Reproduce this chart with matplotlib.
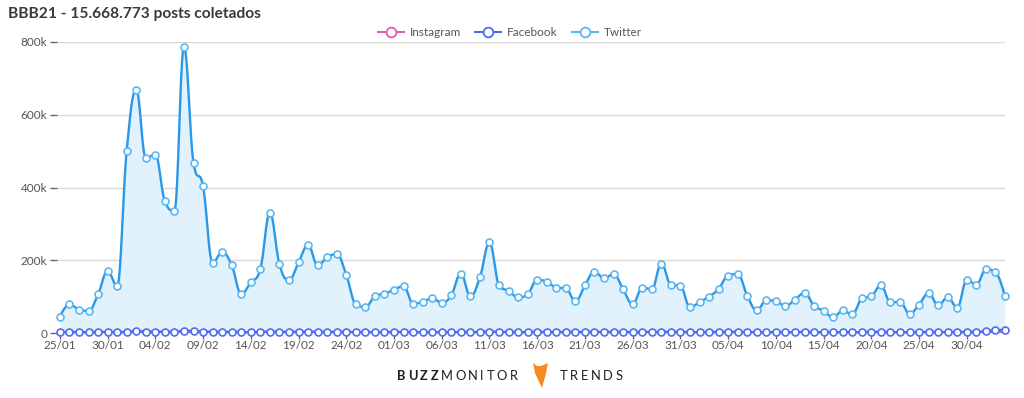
import numpy as np
import matplotlib
matplotlib.use("Agg")
import matplotlib.pyplot as plt
from matplotlib.lines import Line2D
from matplotlib.patches import Polygon

# ---------------- data ----------------
title = "BBB21 - 15.668.773 posts coletados"
series_names = ["Instagram", "Facebook", "Twitter"]
tick_labels = ["25/01", "30/01", "04/02", "09/02", "14/02", "19/02", "24/02",
               "01/03", "06/03", "11/03", "16/03", "21/03", "26/03", "31/03",
               "05/04", "10/04", "15/04", "20/04", "25/04", "30/04"]
tick_days = [0, 5, 10, 15, 20, 25, 30, 35, 40, 45, 50, 55, 60, 65, 70, 75, 80, 85, 90, 95]

twitter = [45, 79, 64, 61, 106, 170, 129, 501, 669, 482,
           490, 362, 336, 786, 468, 403, 193, 223, 186, 108,
           139, 176, 330, 189, 145, 194, 242, 186, 208, 217,
           160, 79, 72, 101, 108, 119, 129, 81, 85, 96,
           83, 104, 163, 101, 153, 249, 131, 116, 98, 107,
           146, 141, 125, 123, 87, 131, 169, 150, 162, 120,
           79, 125, 120, 191, 133, 130, 71, 85, 100, 121,
           158, 162, 103, 62, 90, 88, 74, 92, 110, 75,
           61, 43, 62, 51, 95, 101, 131, 84, 86, 53,
           78, 110, 76, 98, 70, 146, 133, 175, 168, 101]
facebook = [2, 3, 2, 2, 3, 3, 2, 3, 5, 4,
            4, 3, 3, 6, 5, 4, 3, 3, 3, 2,
            2, 3, 4, 3, 3, 3, 4, 3, 3, 3,
            3, 2, 2, 2, 2, 3, 3, 2, 2, 2,
            2, 2, 3, 2, 3, 4, 3, 3, 2, 2,
            3, 3, 3, 3, 2, 3, 3, 3, 3, 3,
            2, 3, 3, 3, 3, 3, 2, 2, 2, 3,
            3, 3, 3, 2, 2, 2, 2, 2, 3, 2,
            2, 2, 2, 2, 2, 3, 3, 2, 2, 2,
            2, 3, 2, 3, 2, 3, 3, 5, 8, 8]
instagram = [1, 1, 1, 1, 1, 1, 1, 1, 2, 1,
             1, 1, 1, 2, 2, 1, 1, 1, 1, 1,
             1, 1, 1, 1, 1, 1, 1, 1, 1, 1,
             1, 1, 1, 1, 1, 1, 1, 1, 1, 1,
             1, 1, 1, 1, 1, 1, 1, 1, 1, 1,
             1, 1, 1, 1, 1, 1, 1, 1, 1, 1,
             1, 1, 1, 1, 1, 1, 1, 1, 1, 1,
             1, 1, 1, 1, 1, 1, 1, 1, 1, 1,
             1, 1, 1, 1, 1, 1, 1, 1, 1, 1,
             1, 1, 1, 1, 1, 1, 1, 2, 3, 3]
y_ticks = [0, 200, 400, 600, 800]
y_tick_labels = ["0", "200k", "400k", "600k", "800k"]

# ---------------- helpers ----------------
def spline(xs, ys, smoothing=1.5, n=16):
    """Highcharts-style spline through the points (for drawing only)."""
    xs = np.asarray(xs, float)
    ys = np.asarray(ys, float)
    m = len(xs)
    lc = np.zeros((m, 2)); rc = np.zeros((m, 2))
    denom = smoothing + 1
    for i in range(m):
        px, py = xs[i], ys[i]
        if 0 < i < m - 1:
            lx, ly = xs[i - 1], ys[i - 1]
            nx, ny = xs[i + 1], ys[i + 1]
            lcx = (smoothing * px + lx) / denom
            lcy = (smoothing * py + ly) / denom
            rcx = (smoothing * px + nx) / denom
            rcy = (smoothing * py + ny) / denom
            corr = 0
            if rcx != lcx:
                corr = ((rcy - lcy) * (rcx - px)) / (rcx - lcx) + py - rcy
            lcy += corr; rcy += corr
            if lcy > ly and lcy > py:
                lcy = max(ly, py); rcy = 2 * py - lcy
            elif lcy < ly and lcy < py:
                lcy = min(ly, py); rcy = 2 * py - lcy
            if rcy > ny and rcy > py:
                rcy = max(ny, py); lcy = 2 * py - rcy
            elif rcy < ny and rcy < py:
                rcy = min(ny, py); lcy = 2 * py - rcy
            lc[i] = (lcx, lcy); rc[i] = (rcx, rcy)
        else:
            lc[i] = (px, py); rc[i] = (px, py)
    outx, outy = [xs[0]], [ys[0]]
    t = np.linspace(0, 1, n + 1)[1:]
    for i in range(1, m):
        p0 = np.array([xs[i - 1], ys[i - 1]]); p1 = rc[i - 1]; p2 = lc[i]; p3 = np.array([xs[i], ys[i]])
        b = ((1 - t) ** 3)[:, None] * p0 + (3 * (1 - t) ** 2 * t)[:, None] * p1 + \
            (3 * (1 - t) * t ** 2)[:, None] * p2 + (t ** 3)[:, None] * p3
        outx.extend(b[:, 0]); outy.extend(b[:, 1])
    return np.array(outx), np.array(outy)

# ---------------- figure ----------------
plt.rcParams['font.family'] = ['Lato', 'DejaVu Sans']
fig = plt.figure(figsize=(10.24, 3.98), dpi=100)
ax = fig.add_axes([57 / 1024, 1 - 333 / 398, (1005 - 57) / 1024, (333 - 42) / 398])

days = np.arange(len(twitter))
tw = np.array(twitter) * 1000.0
fb = np.array(facebook) * 1000.0
ig = np.array(instagram) * 1000.0

c_tw, c_tw_m, c_fill = "#2a97e8", "#5cb8f2", "#e2f2fc"
c_fb = "#4f6df0"
c_ig = "#e25cb4"

sx, sy = spline(days, tw)
ax.fill_between(sx, 0, sy, color=c_fill, zorder=1, lw=0)
ax.plot(sx, sy, color=c_tw, lw=1.7, zorder=3, solid_capstyle='round')
ax.plot(days, tw, ls='none', marker='o', ms=5, mfc='white', mec=c_tw_m, mew=1.2,
        zorder=4, clip_on=False)

sx2, sy2 = spline(days, ig)
ax.plot(sx2, sy2, color=c_ig, lw=1.5, zorder=3)
sx3, sy3 = spline(days, fb)
ax.plot(sx3, sy3, color=c_fb, lw=1.8, zorder=5, clip_on=False)
ax.plot(days, fb, ls='none', marker='o', ms=5, mfc='white', mec=c_fb, mew=1.2,
        zorder=6, clip_on=False)

ax.set_xlim(-0.3, 99)
ax.set_ylim(0, 800000)
ax.set_yticks([v * 1000 for v in y_ticks])
ax.set_yticklabels(y_tick_labels)
ax.set_xticks(tick_days)
ax.set_xticklabels(tick_labels)
ax.yaxis.grid(True, color="#d9d9d9", lw=1)
ax.set_axisbelow(True)
for s in ax.spines.values():
    s.set_visible(False)
ax.tick_params(axis='y', length=5, width=1, color="#666666", labelcolor="#555555",
               labelsize=8.5, pad=2)
ax.tick_params(axis='x', length=4, width=1, color="#666666", labelcolor="#555555",
               labelsize=8.5, pad=1)

# title
fig.text(8 / 1024, 1 - 14 / 398, title, fontsize=11.2, fontweight='bold', color="#3a3a3a",
         va='center', ha='left')

# legend
handles = [Line2D([0], [0], color=c, lw=1.5, marker='o', ms=7, mfc='white', mec=c, mew=1.3)
           for c in (c_ig, c_fb, c_tw_m)]
fig.legend(handles, series_names, loc='center', bbox_to_anchor=(510 / 1024, 1 - 33 / 398),
           ncol=3, frameon=False, fontsize=8.5, handlelength=2.2, columnspacing=1.2,
           handletextpad=0.5, labelcolor="#555555")

# footer (letter-spaced wordmark)
renderer = fig.canvas.get_renderer()
fy = 1 - 376 / 398

def tracked(x_px, s, weight='normal', track=3.2, size=9.3):
    x = x_px
    for ch in s:
        t = fig.text(x / 1024, fy, ch, fontsize=size, fontweight=weight, color="#1e1e1e",
                     va='center', ha='left')
        w = t.get_window_extent(renderer).width
        x += w + track
    return x

xe = tracked(397, "BUZZ", weight='bold', track=2.6)
tracked(xe, "MONITOR", track=2.5)
tracked(560, "TRENDS", track=2.6)
logo = Polygon([(533 / 1024, 1 - 363 / 398), (537 / 1024, 1 - 366 / 398),
                (541 / 1024, 1 - 366 / 398), (548 / 1024, 1 - 363 / 398),
                (546 / 1024, 1 - 373 / 398), (542 / 1024, 1 - 388 / 398),
                (535 / 1024, 1 - 373 / 398)],
               closed=True, transform=fig.transFigure, facecolor="#f58a1f", edgecolor='none')
fig.patches.append(logo)

fig.savefig("out.png", dpi=100, facecolor='white')
